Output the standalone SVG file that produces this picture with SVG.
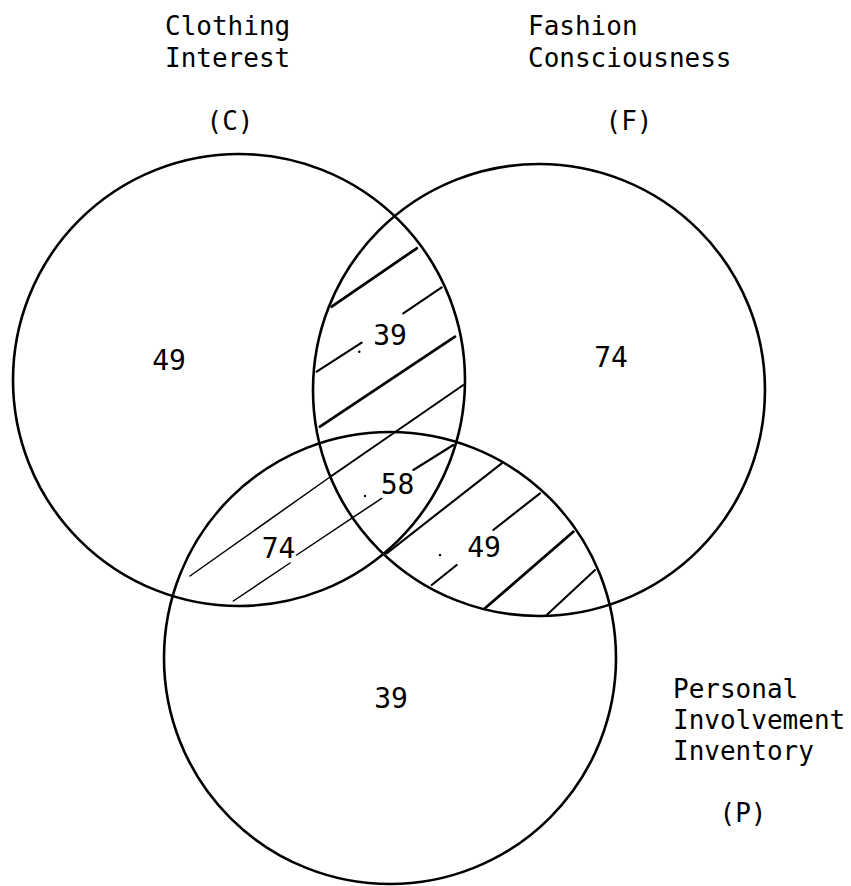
<svg xmlns="http://www.w3.org/2000/svg" width="851" height="886" viewBox="0 0 851 886">
  <style>
    .ring { fill: none; stroke: #000; stroke-width: 2.6; }
    .title { font-family: "DejaVu Sans Mono", "Liberation Mono", monospace; font-size: 26px; fill: #000; }
    .count { font-family: "DejaVu Sans Mono", "Liberation Mono", monospace; font-size: 28px; fill: #000; text-anchor: middle; }
    .mid { text-anchor: middle; }
    .hatch { stroke: #000; stroke-linecap: round; fill: none; }
    .h-thick { stroke-width: 2.8; }
    .h-med { stroke-width: 2.1; }
    .h-thin { stroke-width: 1.5; }
  </style>

  <rect x="0" y="0" width="851" height="886" fill="#fff"/>

  <!-- Clothing Interest set -->
  <g id="set-c">
    <circle class="ring" cx="239" cy="380" r="226"/>
    <text class="title" x="165" y="35">Clothing</text>
    <text class="title" x="165" y="67">Interest</text>
    <text class="title mid" x="230" y="130">(C)</text>
  </g>

  <!-- Fashion Consciousness set -->
  <g id="set-f">
    <circle class="ring" cx="539" cy="390" r="226"/>
    <text class="title" x="528" y="35">Fashion</text>
    <text class="title" x="528" y="67">Consciousness</text>
    <text class="title mid" x="629" y="130">(F)</text>
  </g>

  <!-- Personal Involvement Inventory set -->
  <g id="set-p">
    <circle class="ring" cx="390" cy="658" r="226"/>
    <text class="title" x="673" y="698">Personal</text>
    <text class="title" x="673" y="729">Involvement</text>
    <text class="title" x="673" y="760">Inventory</text>
    <text class="title mid" x="743" y="822">(P)</text>
  </g>

  <!-- diagonal hatching over the pairwise overlaps -->
  <g id="hatching" class="hatch">
    <!-- C and F overlap -->
    <line class="h-thick" x1="331.7" y1="306.7" x2="416.7" y2="248.3"/>
    <line class="h-med" x1="316.7" y1="371.7" x2="361.7" y2="342.7"/>
    <line class="h-med" x1="403.3" y1="313.3" x2="441.7" y2="287.3"/>
    <line class="h-thick" x1="320" y1="426.7" x2="455" y2="336.7"/>
    <line class="h-med" x1="463.3" y1="385" x2="330" y2="477"/>
    <line class="h-thin" x1="330" y1="477" x2="190" y2="576"/>
    <!-- C and P overlap -->
    <line class="h-med" x1="453.3" y1="445" x2="413.3" y2="470"/>
    <line class="h-thin" x1="381.7" y1="498.3" x2="296.7" y2="555"/>
    <line class="h-thin" x1="290" y1="563" x2="233.3" y2="601"/>
    <!-- F and P overlap -->
    <line class="h-med" x1="501.7" y1="463.3" x2="386.7" y2="553.3"/>
    <line class="h-med" x1="540" y1="493.3" x2="493.3" y2="530"/>
    <line class="h-med" x1="456.7" y1="565" x2="431.7" y2="585"/>
    <line class="h-thick" x1="573.3" y1="531.7" x2="485" y2="608.3"/>
    <line class="h-med" x1="595" y1="570" x2="546.7" y2="615"/>
    <!-- stray pen dots beside the counts -->
    <circle cx="359.3" cy="351.7" r="1.2" fill="#000" stroke="none"/>
    <circle cx="365" cy="496" r="1.2" fill="#000" stroke="none"/>
    <circle cx="440" cy="555" r="1.2" fill="#000" stroke="none"/>
  </g>

  <!-- region counts -->
  <g id="counts">
    <text class="count" x="169" y="370">49</text>
    <text class="count" x="390" y="345">39</text>
    <text class="count" x="611" y="367">74</text>
    <text class="count" x="397.5" y="494">58</text>
    <text class="count" x="278.5" y="558">74</text>
    <text class="count" x="484" y="557">49</text>
    <text class="count" x="391" y="708">39</text>
  </g>
</svg>
